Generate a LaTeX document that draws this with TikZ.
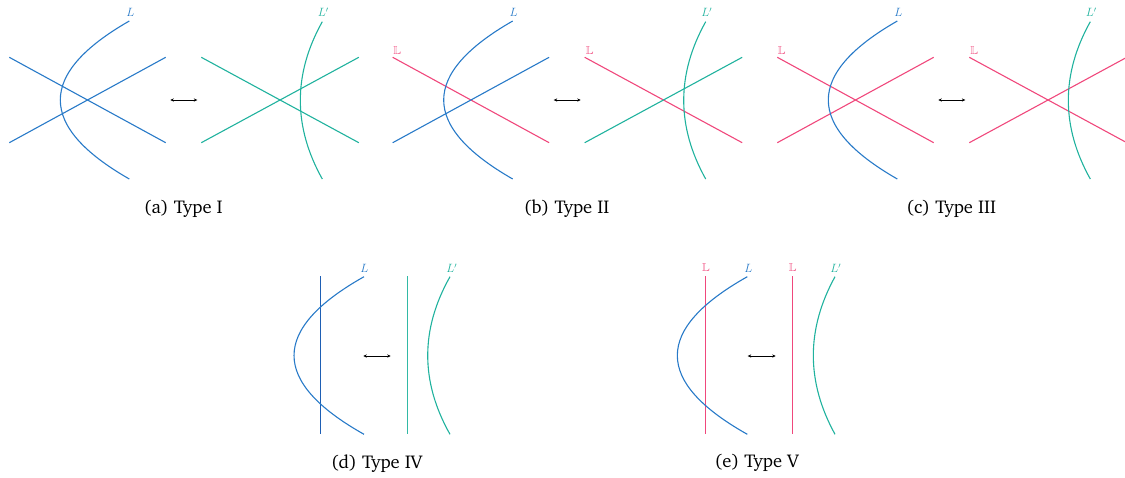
\documentclass[tikz,border=0pt]{standalone}
\usepackage[T1,TU]{fontenc}
\usepackage{amssymb}
\usetikzlibrary{arrows.meta}
\definecolor{cblue}{RGB}{40,122,200}
\definecolor{cdblue}{RGB}{30,95,180}
\definecolor{cpink}{RGB}{240,72,124}
\definecolor{cgreen}{RGB}{32,178,158}
\definecolor{clgreen}{RGB}{50,185,165}
\newcommand\capfont{\fontencoding{T1}\fontfamily{bch}\fontsize{18.5}{22}\selectfont}
\newcommand\xpanel[9]{%
\begin{scope}[shift={(#1,0)}]
 \draw[ln,#3] (0,57.3) -- (156.4,142.7);
 \draw[ln,#4] (0,142.7) -- (156.4,57.3);
 \draw[ln,cblue] (120,21) .. controls (28,73.7) and (28,126.3) .. (120,179);
 \node[lab,cblue] (#2L) at (121,12.5) {$L$};
 \coordinate (#2a1) at (161,100);
 \coordinate (#2a2) at (188,100);
 \draw[dbl] (#2a1) -- (#2a2);
 \draw[ln,#5] (192,57.3) -- (349.5,142.7);
 \draw[ln,#6] (192,142.7) -- (349.5,57.3);
 \draw[ln,cgreen] (313,21.7) .. controls (283.7,74.1) and (283.7,126.6) .. (313,179);
 \node[lab,cgreen] (#2Lp) at (314,12.5) {$L'$};
 #7
 \node[captxt] (#2cap) at (174,208.5) {(#8) Type #9};
\end{scope}}
\begin{document}
\begin{tikzpicture}[x=1pt,y=-1pt,
  ln/.style={line width=1.1pt},
  lab/.style={inner sep=0pt,font=\fontsize{11.5}{13}\selectfont},
  captxt/.style={inner sep=0pt,font=\capfont},
  dbl/.style={line width=0.8pt,{Stealth[length=3.5pt,width=3.2pt]}-{Stealth[length=3.5pt,width=3.2pt]}}]
\useasboundingbox (0,0) rectangle (1125,477);
% (a)
\xpanel{9.3}{a}{cblue}{cblue}{cgreen}{cgreen}{}{a}{I}
% (b)
\xpanel{392.7}{b}{cpink}{cblue}{cpink}{cgreen}{%
 \node[lab,cpink] (bP1) at (4.5,50.2) {$\mathbb{L}$};
 \node[lab,cpink] (bP2) at (197,50.2) {$\mathbb{L}$};}{b}{II}
% (c)
\xpanel{777.3}{c}{cpink}{cpink}{cpink}{cpink}{%
 \node[lab,cpink] (cP1) at (4.5,50.2) {$\mathbb{L}$};
 \node[lab,cpink] (cP2) at (197,50.2) {$\mathbb{L}$};}{c}{III}
% (d)
\draw[ln,cdblue] (320.5,276) -- (320.5,434.3);
\draw[ln,cblue] (364,276.7) .. controls (270.7,329.2) and (270.7,381.8) .. (364,434.3);
\node[lab,cblue] (dL) at (364.3,268) {$L$};
\coordinate (da1) at (363.3,356);
\coordinate (da2) at (390.7,356);
\draw[dbl] (da1) -- (da2);
\draw[ln,clgreen] (407.5,276) -- (407.5,434.3);
\draw[ln,cgreen] (450,276.7) .. controls (420.3,329.2) and (420.3,381.8) .. (450,434.3);
\node[lab,cgreen] (dLp) at (451.7,268) {$L'$};
\node[captxt] (dcap) at (376.7,463.3) {(d) Type IV};
% (e)
\draw[ln,cpink] (705.5,276) -- (705.5,434.3);
\node[lab,cpink] (eP1) at (706,268) {$\mathbb{L}$};
\draw[ln,cblue] (747.3,276.7) .. controls (654,329.2) and (654,381.8) .. (747.3,434.3);
\node[lab,cblue] (eL) at (748.3,268) {$L$};
\coordinate (ea1) at (747.7,356);
\coordinate (ea2) at (775.7,356);
\draw[dbl] (ea1) -- (ea2);
\draw[ln,cpink] (792.5,276) -- (792.5,434.3);
\node[lab,cpink] (eP2) at (792.7,268) {$\mathbb{L}$};
\draw[ln,cgreen] (835,276.7) .. controls (806.1,329.2) and (806.1,381.8) .. (835,434.3);
\node[lab,cgreen] (eLp) at (835.7,268) {$L'$};
\node[captxt] (ecap) at (756.7,463.3) {(e) Type V};
\end{tikzpicture}
\end{document}
